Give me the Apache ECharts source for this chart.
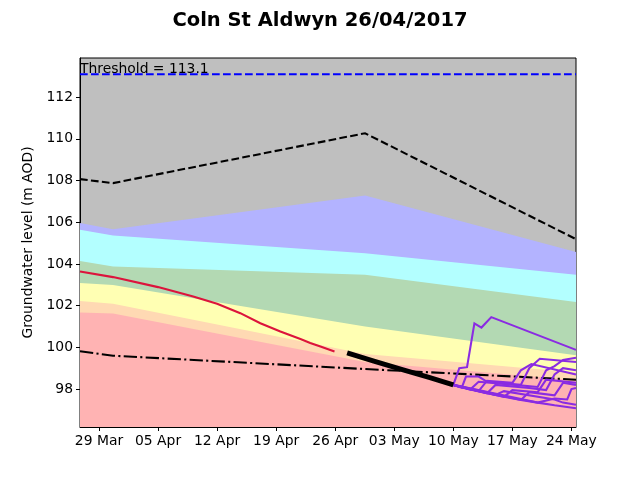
<!DOCTYPE html>
<html><head><meta charset="utf-8">
<script src="https://cdn.jsdelivr.net/npm/echarts@6/dist/echarts.min.js"></script>
<style>html,body{margin:0;padding:0;background:#fff}#c{width:640px;height:480px}</style>
</head><body><div id="c"></div>
<script>
const titleText = 'Coln St Aldwyn 26/04/2017';
const yAxisName = 'Groundwater level (m AOD)';
const thresholdValue = 113.1;
const thresholdLabel = 'Threshold = 113.1';
const xRange = ['2017-03-26 18:00', '2017-05-24 13:00'];
const yRange = [96.18, 113.88];
const tickDates = ['2017-03-29','2017-04-05','2017-04-12','2017-04-19','2017-04-26','2017-05-03','2017-05-10','2017-05-17','2017-05-24'];
const tickLabels = ['29 Mar','05 Apr','12 Apr','19 Apr','26 Apr','03 May','10 May','17 May','24 May'];
const yTicks = [98, 100, 102, 104, 106, 108, 110, 112];

// band boundaries (upper edge of each coloured band), at these dates
const bandDates = ['2017-03-26 18:00', '2017-03-30 16:00', '2017-04-29 13:00', '2017-05-24 13:00'];
const bandBlueTop   = [105.96, 105.67, 107.28, 104.57];
const bandCyanTop   = [105.64, 105.36, 104.52, 103.48];
const bandGreenTop  = [104.14, 103.88, 103.48, 102.17];
const bandYellowTop = [103.09, 102.99, 101.00, 99.62];
const bandPeachTop  = [102.22, 102.09, 99.68, 98.80];
const bandPinkTop   = [101.67, 101.63, 99.30, 98.42];

const maxLine = [108.07, 107.88, 110.27, 105.19];
const minLine = [99.81, 99.60, 98.96, 98.45];

const obsDates = ['2017-03-26 18:00','2017-03-30 16:00','2017-04-05 00:00','2017-04-09 04:00','2017-04-12 00:00','2017-04-14 18:00','2017-04-17 03:00','2017-04-19 12:00','2017-04-21 21:00','2017-04-23 01:00','2017-04-24 06:00','2017-04-25 22:00'];
const obsValues = [103.64, 103.37, 102.89, 102.44, 102.09, 101.64, 101.16, 100.76, 100.40, 100.21, 100.04, 99.80];

const fcDates = ['2017-04-27 10:00','2017-04-30 14:00','2017-05-03 23:00','2017-05-07 03:00','2017-05-10 00:00'];
const fcValues = [99.74, 99.34, 98.93, 98.56, 98.20];

const ens1 = [['2017-05-10 00:00',98.20],['2017-05-10 17:00',99.0],['2017-05-11 15:00',99.05],['2017-05-12 12:00',101.15],['2017-05-13 08:00',100.95],['2017-05-14 12:00',101.45],['2017-05-24 13:00',99.88]];
const ens2 = [['2017-05-10 00:00',98.20],['2017-05-11 00:00',98.07],['2017-05-11 12:00',98.6],['2017-05-13 00:00',98.6],['2017-05-14 00:00',98.35],['2017-05-18 00:00',98.2],['2017-05-19 00:00',99.0],['2017-05-20 06:00',99.45],['2017-05-24 13:00',99.3]];
const ens3 = [['2017-05-10 00:00',98.20],['2017-05-12 00:00',97.98],['2017-05-13 00:00',98.35],['2017-05-16 00:00',98.25],['2017-05-20 00:00',98.1],['2017-05-21 00:00',98.9],['2017-05-22 00:00',99.1],['2017-05-23 00:00',99.4],['2017-05-24 13:00',99.5]];
const ens4 = [['2017-05-10 00:00',98.20],['2017-05-13 00:00',97.9],['2017-05-14 00:00',98.4],['2017-05-17 00:00',98.3],['2017-05-18 00:00',98.9],['2017-05-19 06:00',99.2],['2017-05-24 13:00',98.7]];
const ens5 = [['2017-05-10 00:00',98.20],['2017-05-14 00:00',97.8],['2017-05-15 00:00',98.2],['2017-05-19 00:00',98.05],['2017-05-21 00:00',97.95],['2017-05-22 00:00',98.7],['2017-05-23 00:00',99.0],['2017-05-24 13:00',98.9]];
const ens6 = [['2017-05-10 00:00',98.20],['2017-05-16 00:00',97.63],['2017-05-17 00:00',97.95],['2017-05-20 00:00',97.85],['2017-05-21 00:00',98.45],['2017-05-24 13:00',98.3]];
const ens7 = [['2017-05-10 00:00',98.20],['2017-05-18 00:00',97.48],['2017-05-19 00:00',97.85],['2017-05-22 00:00',97.7],['2017-05-23 00:00',98.3],['2017-05-24 13:00',98.2]];
const ens8 = [['2017-05-10 00:00',98.20],['2017-05-20 00:00',97.35],['2017-05-22 00:00',97.55],['2017-05-23 12:00',97.5],['2017-05-24 00:00',98.0],['2017-05-24 13:00',98.05]];
const ens9 = [['2017-05-10 00:00',98.20],['2017-05-12 00:00',97.98],['2017-05-14 00:00',97.8],['2017-05-16 00:00',97.63],['2017-05-18 00:00',97.48],['2017-05-20 00:00',97.35],['2017-05-22 00:00',97.22],['2017-05-24 13:00',97.08]];
const ens10 = [['2017-05-10 00:00',98.20],['2017-05-15 00:00',97.72],['2017-05-16 00:00',97.9],['2017-05-22 00:00',97.5],['2017-05-23 00:00',97.35],['2017-05-24 13:00',97.25]];
const ensembles = [ens1, ens2, ens3, ens4, ens5, ens6, ens7, ens8, ens9, ens10];

function ts(s) {
  const parts = s.split(' ');
  const d = parts[0].split('-').map(Number);
  let h = 0, m = 0;
  if (parts[1]) { const t = parts[1].split(':').map(Number); h = t[0]; m = t[1]; }
  return Date.UTC(d[0], d[1] - 1, d[2], h, m);
}
const zip = (dates, vals) => dates.map((d, i) => [ts(d), vals[i]]);
const tickTs = tickDates.map(ts);

const chart = echarts.init(document.getElementById('c'), null, {renderer: 'canvas'});
const FONT = 'DejaVu Sans';
const LW = 2.08;
const DASH = [7.7, 3.3];
const DASHDOT = [13.3, 3.3, 2.1, 3.3];

function band(vals, color) {
  return { type: 'line', data: zip(bandDates, vals), symbol: 'none', silent: true,
    lineStyle: { width: 0 }, areaStyle: { color: color, opacity: 1, origin: 'start' }, z: 1 };
}
function line(data, color, width, type, z) {
  return { type: 'line', data: data, symbol: 'none', silent: true,
    lineStyle: { color: color, width: width, type: type, cap: 'butt', join: 'miter' }, z: z || 3 };
}

const series = [
  band(bandBlueTop, '#b3b3ff'),
  band(bandCyanTop, '#b3ffff'),
  band(bandGreenTop, '#b3d9b3'),
  band(bandYellowTop, '#ffffb3'),
  band(bandPeachTop, '#ffd9b3'),
  band(bandPinkTop, '#ffb3b3'),
  line([[ts(xRange[0]), thresholdValue], [ts(xRange[1]), thresholdValue]], '#0000ff', LW, DASH),
  line(zip(bandDates, maxLine), '#000000', LW, DASH),
  line(zip(bandDates, minLine), '#000000', LW, DASHDOT),
  line(zip(obsDates, obsValues), '#dc143c', LW, 'solid'),
  line(zip(fcDates, fcValues), '#000000', 5, 'solid', 4)
];
ensembles.forEach(e => series.push(line(e.map(p => [ts(p[0]), p[1]]), '#8a2be2', LW, 'solid', 3)));

chart.setOption({
  animation: false,
  backgroundColor: '#ffffff',
  title: { text: titleText, left: 'center', top: 6,
    textStyle: { fontFamily: FONT, fontSize: 19.5, fontWeight: 'bold', color: '#000' } },
  grid: { left: 80, right: 64, top: 58, bottom: 53, show: true, backgroundColor: '#bfbfbf',
    borderColor: '#000', borderWidth: 1, containLabel: false },
  xAxis: {
    type: 'value', min: ts(xRange[0]), max: ts(xRange[1]), scale: true,
    axisLine: { show: true, onZero: false, lineStyle: { color: '#000', width: 1 } },
    axisTick: { show: true, length: 4, lineStyle: { color: '#000' }, customValues: tickTs },
    axisLabel: { show: true, customValues: tickTs, margin: 7, color: '#000', fontFamily: FONT, fontSize: 13.9,
      hideOverlap: false, showMinLabel: true, showMaxLabel: true,
      formatter: function (v) {
        for (let i = 0; i < tickTs.length; i++) if (Math.abs(tickTs[i] - v) < 3600000) return tickLabels[i];
        return '';
      } },
    splitLine: { show: false }, minorTick: { show: false }
  },
  yAxis: {
    type: 'value', min: yRange[0], max: yRange[1], scale: true,
    name: yAxisName, nameLocation: 'middle', nameGap: 40, nameRotate: 90,
    nameTextStyle: { fontFamily: FONT, fontSize: 13.9, color: '#000' },
    axisLine: { show: true, onZero: false, lineStyle: { color: '#000', width: 1 } },
    axisTick: { show: true, length: 4, lineStyle: { color: '#000' }, customValues: yTicks },
    axisLabel: { show: true, customValues: yTicks, margin: 7, color: '#000', fontFamily: FONT, fontSize: 13.9,
      showMinLabel: true, showMaxLabel: true, formatter: v => String(v) },
    splitLine: { show: false }
  },
  graphic: [{ type: 'text', left: 80, top: 62, z: 100,
    style: { text: thresholdLabel, fill: '#000', font: '13.9px "DejaVu Sans"' } }],
  series: series
});
</script></body></html>
